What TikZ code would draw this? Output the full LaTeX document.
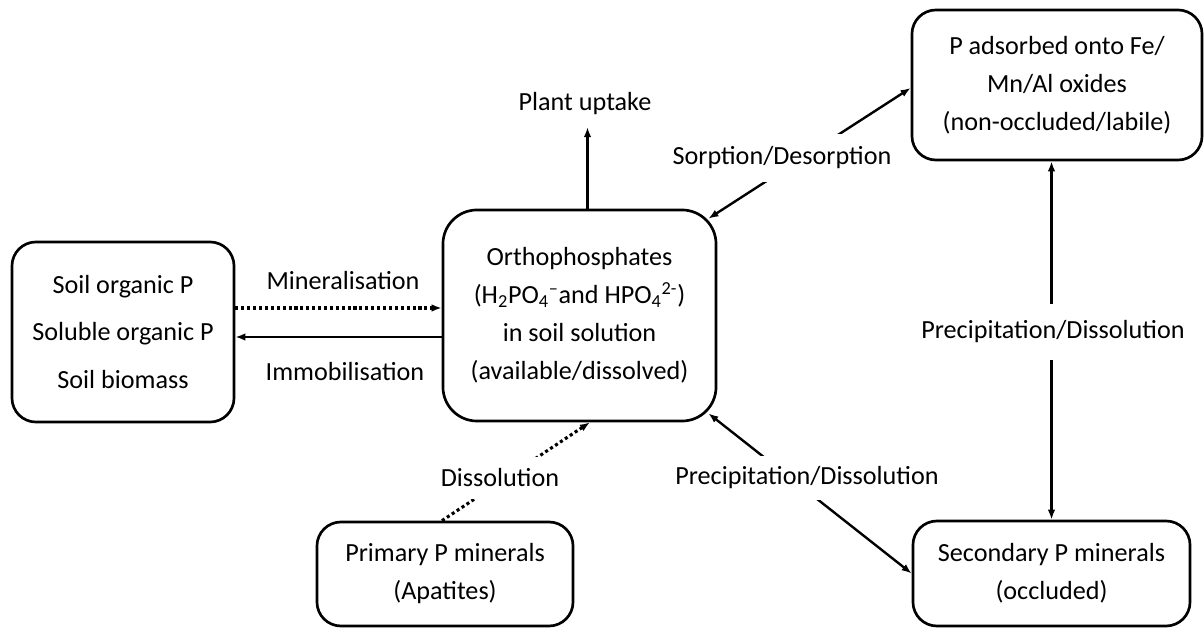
\documentclass[tikz,border=0pt]{standalone}
\usepackage{fontspec}
\setmainfont{Carlito}
\usetikzlibrary{arrows.meta}

\begin{document}
\begin{tikzpicture}[x=0.025cm, y=-0.025cm,
    every node/.style={font=\fontsize{18.6pt}{27pt}\selectfont},
    pool/.style={draw, line width=1.9pt, rounded corners=0.6cm, align=center},
    flow/.style={line width=1.7pt},
    dots/.style={line width=2.2pt, dash pattern=on 2.2pt off 2pt},
    lbl/.style={fill=white, inner xsep=2pt, inner ysep=#1},
    >={Latex[length=2.5mm,width=1.9mm]}]
    \useasboundingbox (0,0) rectangle (1204,628);

    % P pools
    \node[pool, minimum width=5.55cm, minimum height=4.5cm,
          font=\fontsize{18.6pt}{34pt}\selectfont] (soil) at (123,332)
        {Soil organic P\\Soluble organic P\\Soil biomass};
    \node[pool, minimum width=6.825cm, minimum height=5.275cm, rounded corners=0.85cm] (ortho) at (579.5,315.5)
        {Orthophosphates\\(H\textsubscript{2}PO\textsubscript{4}\textsuperscript{--}and HPO\textsubscript{4}\textsuperscript{2-})\\in soil solution\\(available/dissolved)};
    \node[pool, minimum width=7.25cm, minimum height=3.75cm] (adsorbed) at (1057,85)
        {P adsorbed onto Fe/\\Mn/Al oxides\\(non-occluded/labile)};
    \node[pool, minimum width=6.925cm, minimum height=2.625cm] (secondary) at (1051.5,573.5)
        {Secondary P minerals\\(occluded)};
    \node[pool, minimum width=6.4cm, minimum height=2.6cm] (primary) at (445,574)
        {Primary P minerals\\(Apatites)};

    \node (uptake) at (585,104) {Plant uptake};
    \node (miner) at (343,281) {Mineralisation};
    \node (immob) at (345,372) {Immobilisation};

    % fluxes
    \draw[flow,->,shorten >=5pt] ([xshift=0.2cm]ortho.north) -- ([xshift=0.2cm]ortho.north |- uptake.south);
    \draw[dots,->] ([yshift=0.6cm]soil.east) -- ([yshift=0.6cm]soil.east -| ortho.west);
    \draw[flow,->] ([yshift=-0.125cm]soil.east -| ortho.west) -- ([yshift=-0.125cm]soil.east);
    \draw[dots,->] ([xshift=-0.075cm]primary.north) -- ([xshift=0.26cm]ortho.south);
    \draw[flow,<->] ([shift={(-9,10)}]ortho.north east) -- ([yshift=-0.075cm]adsorbed.west);
    \draw[flow,<->] ([shift={(-9,-9)}]ortho.south east) -- (secondary.west);
    \draw[flow,<->] (adsorbed.south -| secondary.north) -- (secondary.north);

    % labels cut the lines
    \node[lbl=0.325cm] (sorp) at (782,158) {Sorption/Desorption};
    \node[lbl=0.275cm] (precip) at (807,478) {Precipitation/Dissolution};
    \node[lbl=0.425cm] (precipv) at (1053,332) {Precipitation/Dissolution};
    \node[lbl=0.3cm] (dissol) at (500,478) {Dissolution};
\end{tikzpicture}
\end{document}
